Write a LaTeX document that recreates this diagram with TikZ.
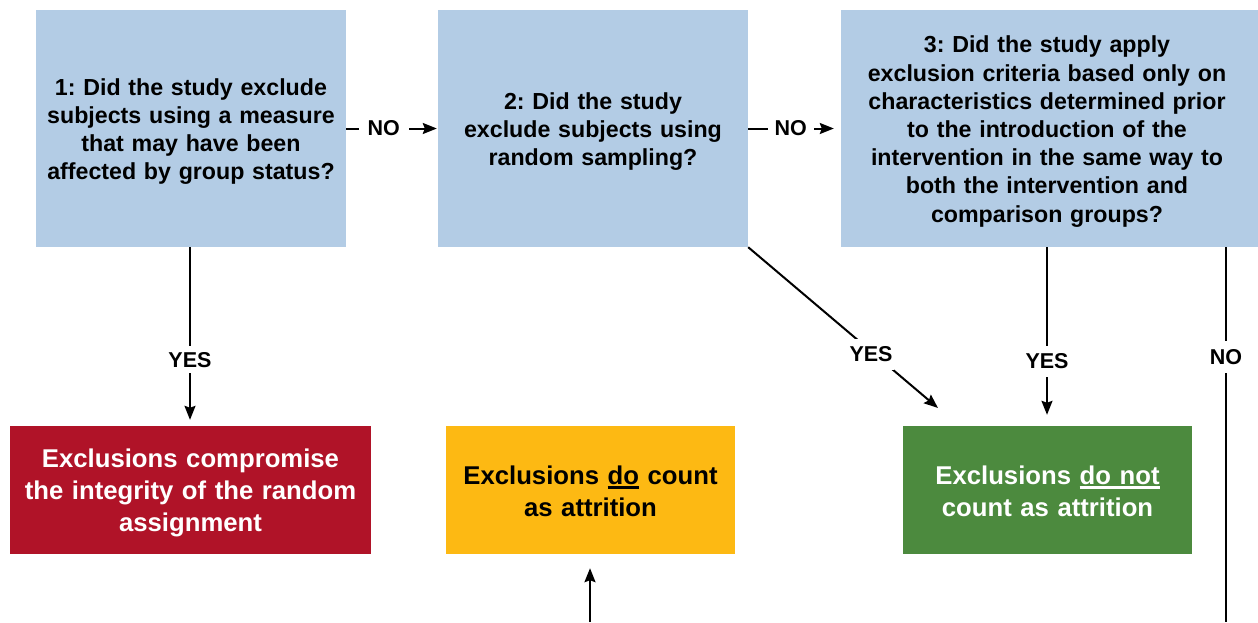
\documentclass[tikz,border=0pt]{standalone}
\usepackage{fontspec}
\setmainfont{Liberation Sans}
\frenchspacing
\usetikzlibrary{arrows.meta}
\definecolor{qblue}{RGB}{179,204,229}
\definecolor{qred}{RGB}{176,19,40}
\definecolor{qyellow}{RGB}{253,185,19}
\definecolor{qgreen}{RGB}{76,138,62}
\newcommand\thickul[1]{\setbox0\hbox{#1}\rlap{\rule[-4.5pt]{\wd0}{2.2pt}}\box0\relax}
\tikzset{
  qbox/.style={fill=qblue, minimum height=237pt, inner sep=0pt},
  qtext/.style={inner sep=0pt, align=center, text=black,
    font=\bfseries\fontsize{23.2}{28.2}\selectfont},
  rbox/.style={minimum height=128pt, inner sep=0pt},
  rtext/.style={inner sep=0pt, align=center,
    font=\bfseries\fontsize{25.7}{32}\selectfont},
  lbl/.style={fill=white, inner sep=0pt, inner xsep=9pt, inner ysep=4pt, text=black,
    font=\bfseries\fontsize{21.5}{22}\selectfont},
  conn/.style={line width=2pt, -{Stealth[length=14pt,width=11pt,inset=2pt]}},
  plain/.style={line width=2pt}
}
\begin{document}
\begin{tikzpicture}[x=1pt,y=-1pt]
\useasboundingbox (0,0) rectangle (1258,622);
% question boxes
\node[qbox, minimum width=310pt] (b1) at (191,128.5) {};
\node[qbox, minimum width=310pt] (b2) at (593,128.5) {};
\node[qbox, minimum width=417pt] (b3) at (1049.5,128.5) {};
\node[qtext, text width=305pt] (t1) at ([yshift=-3pt]b1.center)
  {1: Did the study exclude\\subjects using a measure\\that may have been\\affected by group status?};
\node[qtext, text width=305pt] (t2) at ([yshift=-3pt]b2.center)
  {2: Did the study\\exclude subjects using\\random sampling?};
\node[qtext, text width=400pt] (t3) at ([xshift=-2.5pt,yshift=-3pt]b3.center)
  {3: Did the study apply\\exclusion criteria based only on\\characteristics determined prior\\to the introduction of the\\intervention in the same way to\\both the intervention and\\comparison groups?};
% outcome boxes
\node[rbox, fill=qred, minimum width=361pt] (red) at (190.5,490) {};
\node[rbox, fill=qyellow, minimum width=289pt] (yel) at (590.5,490) {};
\node[rbox, fill=qgreen, minimum width=289pt] (grn) at (1047.5,490) {};
\node[rtext, text=white, text width=355pt] (tr) at ([yshift=-3pt]red.center)
  {Exclusions compromise\\the integrity of the random\\assignment};
\node[rtext, text=black, text width=285pt] (ty) at ([yshift=-1pt]yel.center)
  {Exclusions \thickul{do} count\\as attrition};
\node[rtext, text=white, text width=285pt] (tg) at ([yshift=-1pt]grn.center)
  {Exclusions \thickul{do not}\\count as attrition};
% connectors
\draw[conn, shorten >=1pt] (b1.east) -- node[lbl, pos=0.41]{NO} (b2.west);
\draw[conn, shorten >=7pt] (b2.east) -- node[lbl, pos=0.46, inner xsep=7pt]{NO} (b3.west);
\draw[conn, shorten >=6pt] (b1.south -| 190,0) -- node[lbl, pos=0.63, inner xsep=4pt, inner ysep=6pt]{YES} (red.north -| 190,0);
\coordinate (d) at (938,408);
\draw[conn] (b2.south east) -- node[lbl, pos=0.647, yshift=-3pt, inner xsep=1pt, inner ysep=8pt]{YES} (d);
\draw[conn, shorten >=11pt] (b3.south -| 1047,0) -- node[lbl, pos=0.64, inner xsep=4pt, inner ysep=8pt]{YES} (grn.north -| 1047,0);
\coordinate (rb) at (1226,622);
\draw[plain] (b3.south -| rb) -- node[lbl, pos=0.293, inner xsep=4pt, inner ysep=8pt]{NO} (rb);
\coordinate (yb) at (590,622);
\draw[conn, shorten >=14pt] (yb) -- (yel.south -| yb);
\end{tikzpicture}
\end{document}
